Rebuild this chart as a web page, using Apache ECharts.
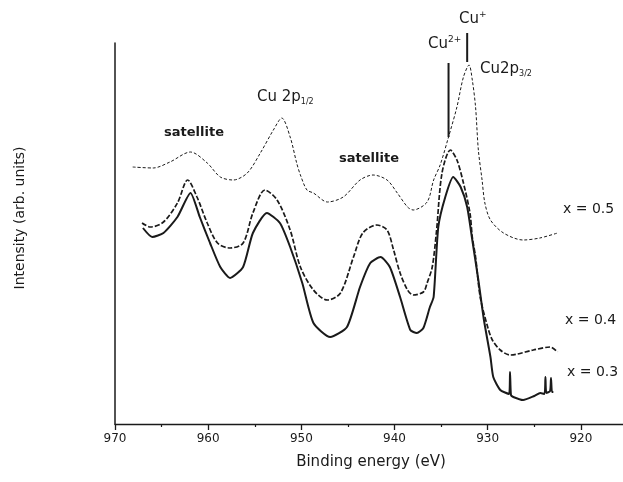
<!DOCTYPE html>
<html lang="en" style="height: 100%">
<head>
  <meta charset="utf-8">
</head>
<body style="height: 100%; margin: 0; background: #fff">
  <div id="container" style="width: 623px; height: 482px"></div>

  <script type="text/javascript" src="https://fastly.jsdelivr.net/npm/echarts@6/dist/echarts.min.js"></script>
  <script type="text/javascript">
    // Cu 2p XPS, binding energy (eV) vs intensity (arb. units)
    var xTicks = [970, 960, 950, 940, 930, 920];

    var spectrum05 = [
      [968.1, 257], [965.9, 256], [964.1, 262], [961.9, 272], [960.1, 261], [958.7, 247],
      [957.3, 244], [955.8, 251], [954.4, 271], [953.0, 294], [952.1, 306], [951.2, 287],
      [950.5, 261], [950.1, 249], [949.4, 234], [948.7, 231], [947.2, 222], [945.5, 227],
      [943.7, 244], [942.3, 249], [940.8, 244], [939.7, 231], [938.6, 217], [938.0, 214],
      [936.5, 222], [935.8, 244], [935.1, 259], [934.2, 287], [933.3, 317], [932.6, 347],
      [932.0, 359], [931.65, 344], [931.3, 317], [931.0, 274], [930.6, 244], [930.3, 221],
      [929.7, 204], [928.3, 191], [926.2, 184], [924.4, 186], [922.5, 191]
    ];

    var spectrum04 = [
      [967.1, 201], [966.2, 197], [964.8, 202], [963.3, 221], [962.2, 244], [961.2, 227],
      [960.1, 201], [959.0, 181], [957.65, 176], [956.25, 181], [955.2, 211], [953.9, 234],
      [952.6, 224], [951.2, 194], [950.1, 157], [948.7, 134], [947.2, 124], [945.8, 131],
      [944.4, 167], [943.4, 191], [941.9, 199], [940.8, 194], [940.1, 174], [939.4, 151],
      [938.6, 134], [938.0, 129], [936.9, 132], [936.5, 141], [935.95, 157], [935.5, 192],
      [934.9, 251], [934.0, 274], [933.3, 264], [932.6, 241], [931.9, 211], [931.65, 187],
      [931.3, 167], [930.8, 127], [930.0, 97], [929.5, 84], [928.65, 74], [927.6, 69],
      [925.1, 74], [923.3, 77], [922.5, 72]
    ];

    var spectrum03 = [
      [967.0, 196], [966.0, 187], [964.8, 191], [963.3, 207], [961.9, 231], [960.9, 207],
      [959.8, 181], [958.7, 157], [957.65, 146], [956.25, 157], [955.2, 191], [953.7, 211],
      [952.3, 201], [951.2, 177], [949.9, 141], [948.7, 101], [946.9, 87], [945.1, 97],
      [943.7, 137], [942.6, 161], [941.5, 167], [940.5, 157], [939.4, 127], [938.3, 94],
      [937.6, 91], [936.9, 96], [936.2, 117], [935.8, 127], [935.3, 197], [934.55, 227],
      [933.7, 247], [932.9, 237], [932.2, 217], [931.65, 184], [931.0, 144], [930.4, 104],
      [929.7, 67], [929.4, 47], [928.65, 34], [927.7, 30], [927.6, 52], [927.5, 29],
      [927.25, 27], [926.2, 24], [925.0, 28], [924.35, 31], [923.9, 30], [923.8, 47],
      [923.7, 31], [923.3, 33], [923.2, 46], [923.1, 32], [922.95, 32]
    ];

    // reference marks for the two oxidation states
    var cu2Mark = [[934.2, 287], [934.2, 361]];
    var cu1Mark = [[932.2, 362], [932.2, 391]];

    var ink = '#1a1a1a';
    var font = '"DejaVu Sans", sans-serif';

    var dom = document.getElementById('container');
    var myChart = echarts.init(dom, null, { renderer: 'canvas' });

    function txt(x, y, text, rich, size, align, weight) {
      return {
        type: 'text', x: x, y: y,
        style: {
          text: text,
          rich: rich,
          fill: ink,
          font: (weight ? weight + ' ' : '') + (size || 15) + 'px ' + font,
          textAlign: align || 'left',
          textVerticalAlign: 'middle'
        }
      };
    }

    var supRich = {
      a: { fontSize: 15, fontFamily: font, lineHeight: 18, verticalAlign: 'middle' },
      s: { fontSize: 9, fontFamily: font, lineHeight: 9, verticalAlign: 'top' }
    };
    var subRich = {
      a: { fontSize: 15, fontFamily: font, lineHeight: 18, verticalAlign: 'middle' },
      s: { fontSize: 8, fontFamily: font, lineHeight: 8, verticalAlign: 'bottom' }
    };

    var option = {
      animation: false,
      grid: { left: 115, top: 43, width: 559, height: 381, containLabel: false, outerBoundsMode: 'none' },
      xAxis: {
        type: 'value',
        inverse: true,
        min: 910,
        max: 970,
        interval: 10,
        axisLine: { lineStyle: { color: ink, width: 1.3 } },
        axisTick: { show: true, length: 6, lineStyle: { color: ink, width: 1.3 } },
        minorTick: { show: true, splitNumber: 2, length: 3, lineStyle: { color: ink, width: 1.2 } },
        axisLabel: {
          color: ink, fontSize: 12, fontFamily: font, margin: 9,
          formatter: function (v) { return xTicks.indexOf(v) >= 0 ? String(v) : ''; }
        },
        splitLine: { show: false }
      },
      yAxis: {
        type: 'value',
        min: 0,
        max: 381,
        axisLine: { show: true, lineStyle: { color: ink, width: 1.5 } },
        axisTick: { show: false },
        axisLabel: { show: false },
        splitLine: { show: false }
      },
      series: [
        {
          name: 'x = 0.5', type: 'line', data: spectrum05, showSymbol: false,
          smooth: 0.3,
          lineStyle: { color: ink, width: 1, type: [3, 2] }
        },
        {
          name: 'x = 0.4', type: 'line', data: spectrum04, showSymbol: false,
          smooth: 0.3,
          lineStyle: { color: ink, width: 1.7, type: [5, 2] }
        },
        {
          name: 'x = 0.3', type: 'line', data: spectrum03, showSymbol: false,
          smooth: 0.2,
          lineStyle: { color: ink, width: 2 }
        },
        {
          name: 'Cu2+', type: 'line', data: cu2Mark, showSymbol: false, clip: false,
          lineStyle: { color: ink, width: 2 }
        },
        {
          name: 'Cu+', type: 'line', data: cu1Mark, showSymbol: false, clip: false,
          lineStyle: { color: ink, width: 2 }
        }
      ],
      graphic: [
        txt(194, 133, 'satellite', null, 13, 'center', 'bold'),
        txt(369, 159, 'satellite', null, 13, 'center', 'bold'),
        txt(257, 97, '{a|Cu 2p}{s|1/2}', subRich),
        txt(480, 69, '{a|Cu2p}{s|3/2}', subRich),
        txt(428, 44, '{a|Cu}{s|2+}', supRich),
        txt(459, 19, '{a|Cu}{s|+}', supRich),
        txt(563, 209, 'x = 0.5', null, 14),
        txt(565, 320, 'x = 0.4', null, 14),
        txt(567, 372, 'x = 0.3', null, 14),
        txt(371, 462, 'Binding energy (eV)', null, 15, 'center'),
        {
          type: 'text', x: 20, y: 218, rotation: Math.PI / 2,
          style: {
            text: 'Intensity (arb. units)', fill: ink, font: '14px ' + font,
            textAlign: 'center', textVerticalAlign: 'middle'
          }
        }
      ]
    };

    myChart.setOption(option);
    window.addEventListener('resize', myChart.resize);
  </script>
</body>
</html>
